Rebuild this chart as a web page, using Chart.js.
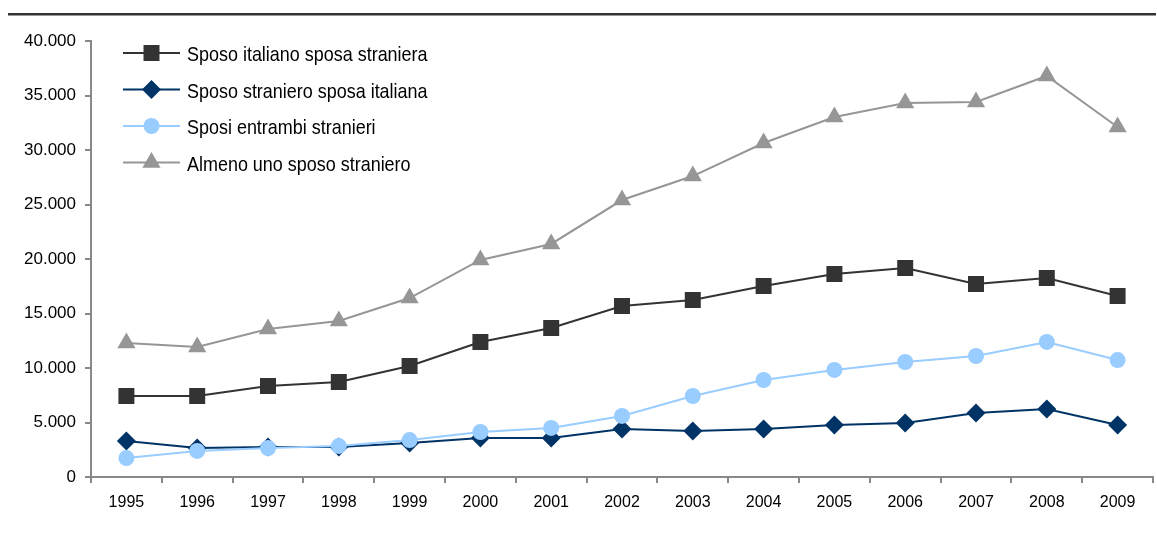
<!DOCTYPE html>
<html>
<head>
<meta charset="utf-8">
<script src="https://cdn.jsdelivr.net/npm/chart.js@4"></script>
<style>
html,body{margin:0;padding:0;background:#fff;}
#wrap{position:relative;width:1157px;height:534px;}
</style>
</head>
<body>
<div id="wrap"><canvas id="c" width="1157" height="534"></canvas></div>
<script>
const years = ['1995','1996','1997','1998','1999','2000','2001','2002','2003','2004','2005','2006','2007','2008','2009'];
const seriesNames = ['Sposo italiano sposa straniera','Sposo straniero sposa italiana','Sposi entrambi stranieri','Almeno uno sposo straniero'];
const italianoStraniera = [7430,7430,8350,8720,10180,12390,13670,15690,16240,17520,18620,19170,17700,18260,16600];
const stranieroItaliana = [3300,2660,2750,2750,3120,3580,3580,4400,4220,4400,4770,4950,5870,6240,4770];
const entrambiStranieri = [1740,2390,2660,2840,3390,4130,4500,5600,7430,8900,9820,10550,11100,12390,10730];
const almenoUno = [12290,11930,13580,14310,16420,19910,21380,25410,27610,30640,33030,34310,34400,36790,32110];
const yTicks = [0,5000,10000,15000,20000,25000,30000,35000,40000];

const FONT = "'Liberation Sans', Arial, sans-serif";

const styles = [
  {color:'#333333', point:'rect', r:11.3},
  {color:'#003366', point:'rectRot', r:9.5},
  {color:'#99CCFF', point:'circle', r:8},
  {color:'#969696', point:'triangle', r:10.5}
];
const values = [italianoStraniera, stranieroItaliana, entrambiStranieri, almenoUno];
const orders = [4,3,2,1];

const datasets = values.map((v,i)=>({
  label: seriesNames[i],
  data: v,
  borderColor: styles[i].color,
  backgroundColor: styles[i].color,
  pointBackgroundColor: styles[i].color,
  pointBorderColor: styles[i].color,
  pointBorderWidth: 0,
  borderWidth: 2,
  pointStyle: styles[i].point,
  pointRadius: styles[i].r,
  pointHoverRadius: styles[i].r,
  tension: 0,
  order: orders[i]
}));

const decor = {
  id:'decor',
  afterDraw(chart){
    const ctx = chart.ctx;
    ctx.save();
    // top rule
    ctx.fillStyle = '#333333';
    ctx.fillRect(8, 13, 1148, 2.5);
    // custom legend
    const x0 = 123, x1 = 180, tx = 187;
    chart.data.datasets.forEach((ds, i) => {
      const y = 53 + i*36.5;
      ctx.strokeStyle = ds.borderColor;
      ctx.lineWidth = 2;
      ctx.beginPath(); ctx.moveTo(x0, y); ctx.lineTo(x1, y); ctx.stroke();
      ctx.fillStyle = ds.borderColor;
      Chart.helpers.drawPoint(ctx, {pointStyle: ds.pointStyle, radius: ds.pointRadius, borderWidth: 0, rotation: 0}, (x0+x1)/2, y);
      ctx.save();
      ctx.fillStyle = '#000';
      ctx.font = "21px " + FONT;
      ctx.textBaseline = 'alphabetic';
      ctx.textAlign = 'left';
      ctx.translate(tx, y + 8);
      ctx.scale(0.855, 1);
      ctx.fillText(ds.label, 0, 0);
      ctx.restore();
    });
    ctx.restore();
  }
};

new Chart(document.getElementById('c'), {
  type: 'line',
  data: { labels: years, datasets },
  options: {
    responsive: false,
    animation: false,
    events: [],
    layout: { autoPadding: false, padding: { left: 0, right: 4, top: 41, bottom: 0 } },
    plugins: { legend: { display: false }, tooltip: { enabled: false } },
    scales: {
      x: {
        offset: true,
        grid: { offset: true, drawOnChartArea: false, drawTicks: true, tickLength: 6, color: '#888888', lineWidth: 2 },
        border: { color: '#888888', width: 2 },
        ticks: { color: '#000', font: { family: FONT, size: 16 }, padding: 10, maxRotation: 0, autoSkip: false },
        afterFit(s){ s.height = 57; s.paddingLeft = 0; s.paddingRight = 0; }
      },
      y: {
        min: 0, max: 40000,
        grid: { drawOnChartArea: false, drawTicks: true, tickLength: 6, color: '#888888', lineWidth: 2 },
        border: { color: '#888888', width: 2 },
        afterBuildTicks(s){ s.ticks = yTicks.map(v=>({value:v})); },
        ticks: {
          color: '#000', font: { family: FONT, size: 17 }, padding: 9,
          callback: v => v === 0 ? '0' : String(v).replace(/\B(?=(\d{3})+(?!\d))/g, '.')
        },
        afterFit(s){ s.width = 91; s.paddingTop = 0; s.paddingBottom = 0; }
      }
    }
  },
  plugins: [decor]
});
</script>
</body>
</html>
